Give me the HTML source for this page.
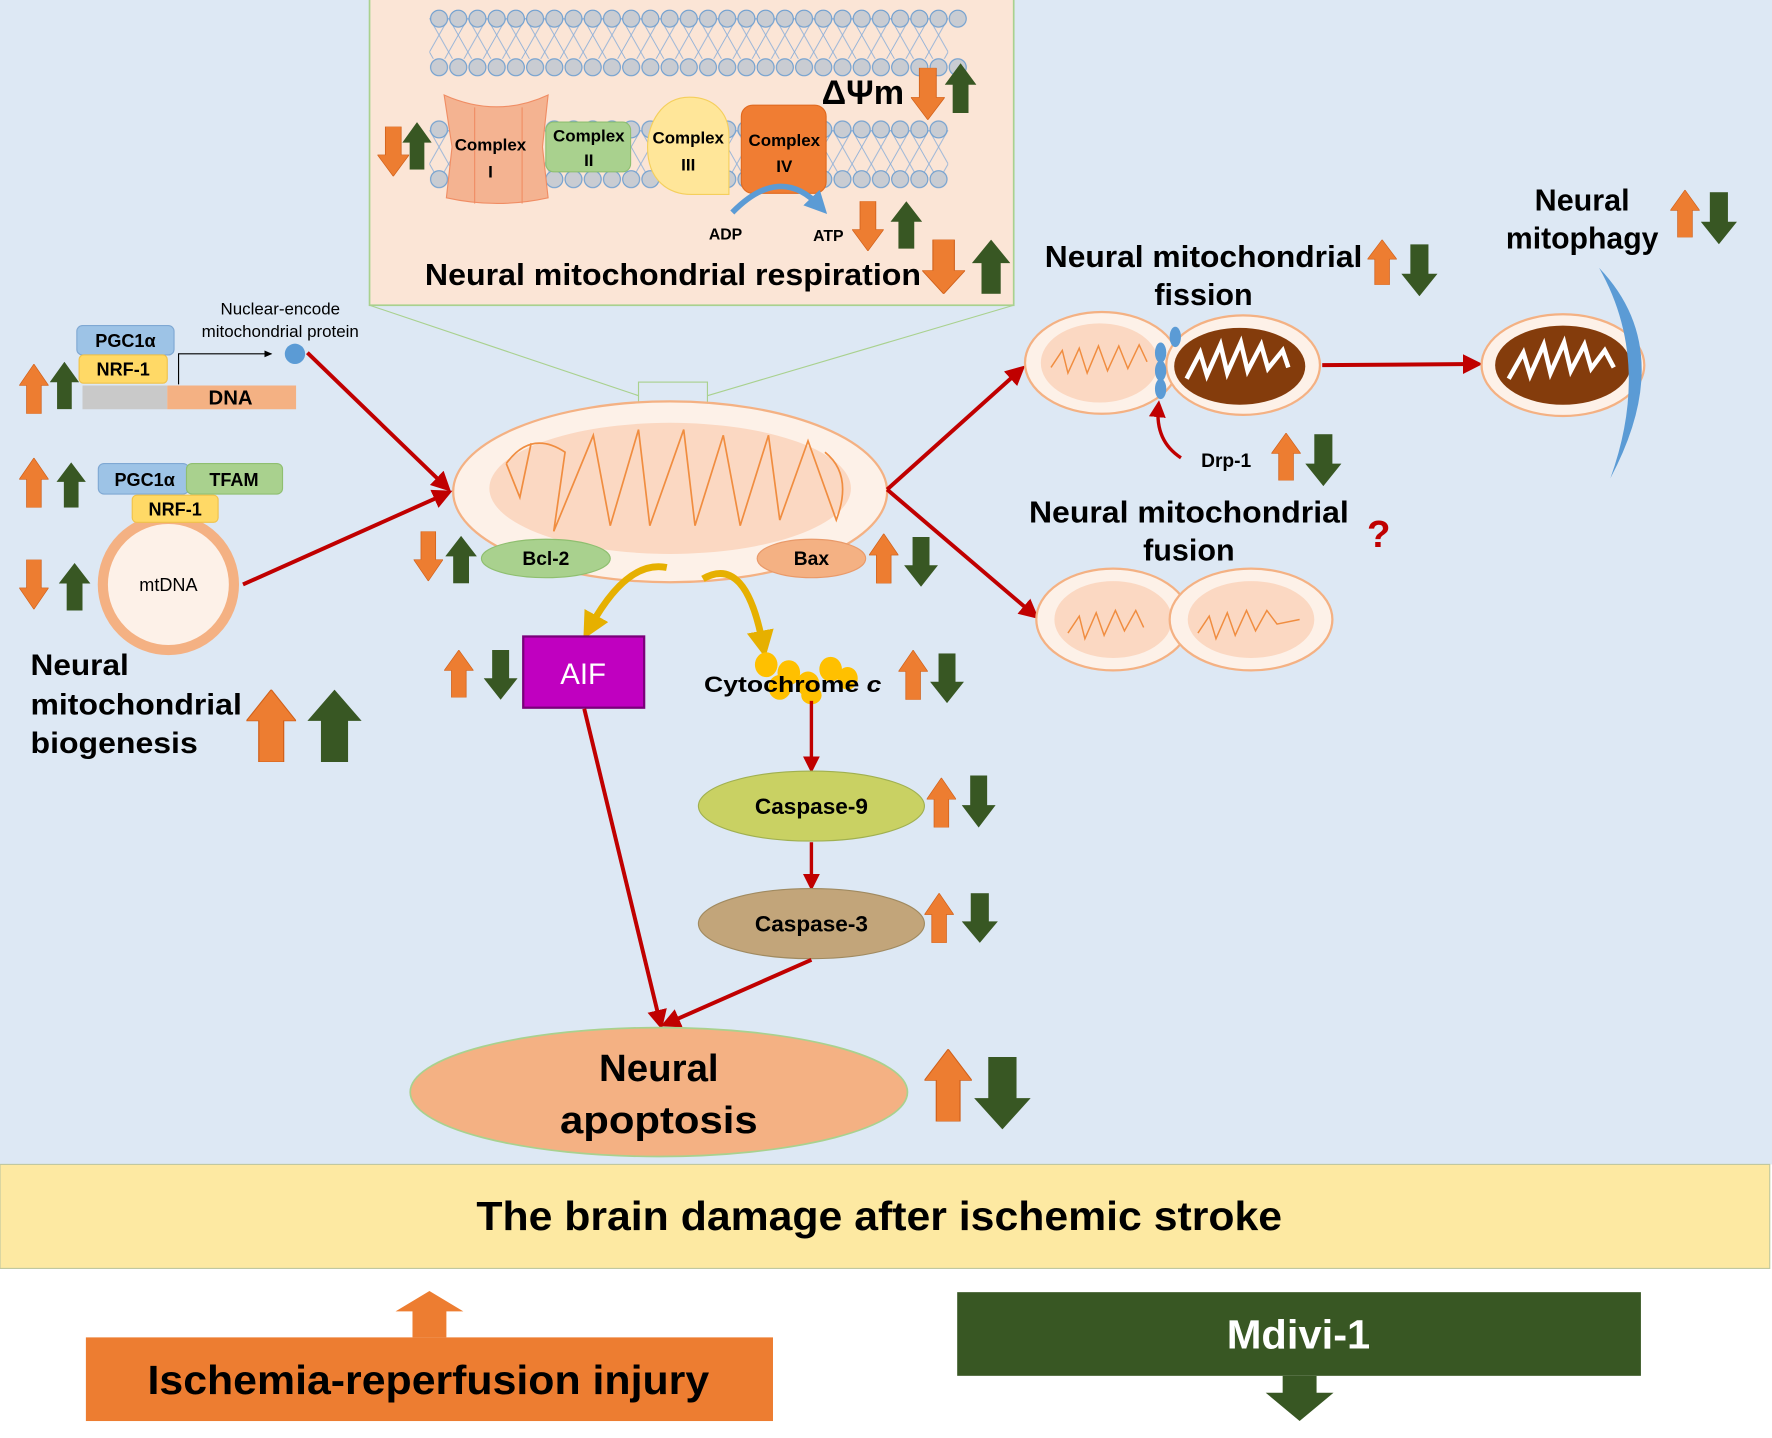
<!DOCTYPE html>
<html><head><meta charset="utf-8"><style>
html,body{margin:0;padding:0;background:#fff}
svg{display:block}
text{font-family:"Liberation Sans",Arial,sans-serif}
.b{font-weight:bold}
</style></head><body>
<svg width="1772" height="1438" viewBox="0 0 1568 1272" preserveAspectRatio="none" xmlns="http://www.w3.org/2000/svg">
<defs>
<symbol id="au" viewBox="0 0 20 44" preserveAspectRatio="none"><polygon points="5,44 15,44 15,19 20,19 10,0 0,19 5,19"/></symbol>
<symbol id="ad" viewBox="0 0 20 44" preserveAspectRatio="none"><polygon points="5,0 15,0 15,25 20,25 10,44 0,25 5,25"/></symbol>
<pattern id="lip" x="0" y="0" width="17" height="17" patternUnits="userSpaceOnUse"><circle cx="8.5" cy="8.5" r="7.5" fill="#c9ccd2" stroke="#6f9fd0" stroke-width="1"/></pattern>
<pattern id="tail" x="0" y="0" width="17" height="30" patternUnits="userSpaceOnUse"><path d="M0,0 L17,30 M17,0 L0,30" stroke="#8fb0d8" stroke-width="0.8"/></pattern>
<marker id="rm2" markerWidth="5" markerHeight="5" refX="3" refY="2.5" orient="auto" markerUnits="strokeWidth"><path d="M0,0 L5,2.5 L0,5 z" fill="#c00000"/></marker>
<marker id="bm" markerWidth="4" markerHeight="4" refX="2" refY="2" orient="auto" markerUnits="strokeWidth"><path d="M0,0 L4,2 L0,4 z" fill="#5b9bd5"/></marker>
<marker id="ym" markerWidth="4" markerHeight="4" refX="2" refY="2" orient="auto" markerUnits="strokeWidth"><path d="M0,0 L4,2 L0,4 z" fill="#e6b000"/></marker>
<marker id="km" markerWidth="8" markerHeight="8" refX="6" refY="4" orient="auto" markerUnits="userSpaceOnUse"><path d="M0,1 L7,4 L0,7 z" fill="#000"/></marker>
</defs>
<rect x="0" y="0" width="1568" height="1030" fill="#dde8f4"/>
<rect x="0" y="1122" width="1568" height="150" fill="#fff"/>

<!-- inset -->
<line x1="327" y1="270" x2="565" y2="350" stroke="#a9d18e" stroke-width="1"/>
<line x1="897" y1="270" x2="626" y2="350" stroke="#a9d18e" stroke-width="1"/>
<rect x="327" y="-2" width="570" height="272" fill="#fbe5d6" stroke="#a9d18e" stroke-width="1.5"/>
<g transform="translate(380,16)"><rect x="0" y="0" width="459" height="36" fill="url(#tail)"/></g>
<g transform="translate(380,8)"><rect x="0" y="0" width="476" height="17" fill="url(#lip)"/></g>
<g transform="translate(380,51)"><rect x="0" y="0" width="476" height="17" fill="url(#lip)"/></g>
<g transform="translate(380,115)"><rect x="0" y="0" width="459" height="40" fill="url(#tail)"/></g>
<g transform="translate(380,106)"><rect x="0" y="0" width="459" height="17" fill="url(#lip)"/></g>
<g transform="translate(380,150)"><rect x="0" y="0" width="459" height="17" fill="url(#lip)"/></g>
<path d="M393,84 Q440,105 485,84 L480,130 L485,175 Q440,185 395,175 L400,130 Z" fill="#f4b391" stroke="#f08d64"/>
<line x1="420" y1="95" x2="420" y2="180" stroke="#f08d64"/><line x1="462" y1="95" x2="462" y2="180" stroke="#f08d64"/>
<text x="434" y="133" font-size="15" text-anchor="middle" class="b">Complex</text>
<text x="434" y="157" font-size="15" text-anchor="middle" class="b">I</text>
<rect x="483" y="108" width="75" height="44" rx="7" fill="#a9d18e" stroke="#8fbf70"/>
<text x="521" y="125" font-size="15" text-anchor="middle" class="b">Complex</text>
<text x="521" y="147" font-size="15" text-anchor="middle" class="b">II</text>
<path d="M610,86 C585,86 573,110 573,130 C573,160 592,172 612,172 L645,172 L645,120 C645,100 632,86 610,86Z" fill="#ffe699" stroke="#f5cf5c"/>
<text x="609" y="127" font-size="15" text-anchor="middle" class="b">Complex</text>
<text x="609" y="151" font-size="15" text-anchor="middle" class="b">III</text>
<rect x="656" y="93" width="75" height="78" rx="10" fill="#f07d33" stroke="#e06a20"/>
<text x="694" y="129" font-size="15" text-anchor="middle" class="b">Complex</text>
<text x="694" y="152" font-size="15" text-anchor="middle" class="b">IV</text>
<path d="M648,188 Q690,145 725,182" fill="none" stroke="#5b9bd5" stroke-width="5" marker-end="url(#bm)"/>
<text x="642" y="212" font-size="14" text-anchor="middle" class="b">ADP</text>
<text x="733" y="213" font-size="14" text-anchor="middle" class="b">ATP</text>
<text x="727" y="92" font-size="30" class="b" textLength="73" lengthAdjust="spacingAndGlyphs">ΔΨm</text>
<text x="376" y="252" font-size="27" class="b" textLength="439" lengthAdjust="spacingAndGlyphs">Neural mitochondrial respiration</text>
<g fill="#ed7d31" stroke="#d0601a" stroke-width="0.5"><use href="#ad" x="334" y="112" width="28" height="44"/><use href="#ad" x="806" y="60" width="30" height="46"/><use href="#ad" x="754" y="178" width="28" height="44"/><use href="#ad" x="816" y="212" width="38" height="48"/></g>
<g fill="#385723"><use href="#au" x="356" y="108" width="26" height="42"/><use href="#au" x="836" y="56" width="28" height="44"/><use href="#au" x="788" y="178" width="28" height="42"/><use href="#au" x="860" y="212" width="34" height="48"/></g>

<!-- main mitochondrion -->
<rect x="565" y="338" width="61" height="27" fill="none" stroke="#a9d18e"/>
<ellipse cx="593" cy="435" rx="192" ry="80" fill="#fdf1e8" stroke="#f4b183" stroke-width="2"/>
<ellipse cx="593" cy="432" rx="160" ry="58" fill="#fbd8c2"/>
<path d="M448,410 Q470,380 500,400 L490,470 L525,385 L540,465 L565,380 L575,465 L605,380 L615,465 L640,385 L655,465 L680,385 L690,460 L715,390 L740,460 Q755,420 730,400 M448,410 L460,440 L470,392" fill="none" stroke="#f08d40" stroke-width="1.5"/>
<ellipse cx="483" cy="494" rx="57" ry="17" fill="#a9d18e" stroke="#8fbf70"/>
<text x="483" y="500" font-size="17" text-anchor="middle" class="b">Bcl-2</text>
<ellipse cx="718" cy="494" rx="48" ry="17" fill="#f4b183" stroke="#e99a6a"/>
<text x="718" y="500" font-size="17" text-anchor="middle" class="b">Bax</text>

<!-- left -->
<rect x="68" y="288" width="86" height="26" rx="5" fill="#9dc3e6" stroke="#7fa8d3"/>
<text x="111" y="307" font-size="16" text-anchor="middle" class="b">PGC1α</text>
<rect x="70" y="314" width="78" height="25" rx="4" fill="#ffd966" stroke="#f0c24a"/>
<text x="109" y="332" font-size="16" text-anchor="middle" class="b">NRF-1</text>
<rect x="73" y="341" width="75" height="21" fill="#c9c9c9"/>
<rect x="148" y="341" width="114" height="21" fill="#f4b183"/>
<text x="204" y="358" font-size="18" text-anchor="middle" class="b">DNA</text>
<path d="M158,340 L158,313 L240,313" fill="none" stroke="#000" stroke-width="1" marker-end="url(#km)"/>
<circle cx="261" cy="313" r="9" fill="#5b9bd5"/>
<text x="248" y="278" font-size="15" text-anchor="middle">Nuclear-encode</text>
<text x="248" y="298" font-size="15" text-anchor="middle">mitochondrial protein</text>
<line x1="272" y1="312" x2="394" y2="430" stroke="#c00000" stroke-width="3.5" marker-end="url(#rm2)"/>
<circle cx="149" cy="517" r="58" fill="#fdf1e8" stroke="#f4b183" stroke-width="9"/>
<text x="149" y="523" font-size="16" text-anchor="middle">mtDNA</text>
<rect x="87" y="410" width="80" height="27" rx="5" fill="#9dc3e6" stroke="#7fa8d3"/>
<text x="128" y="430" font-size="16" text-anchor="middle" class="b">PGC1α</text>
<rect x="165" y="410" width="85" height="27" rx="5" fill="#a9d18e" stroke="#8fbf70"/>
<text x="207" y="430" font-size="16" text-anchor="middle" class="b">TFAM</text>
<rect x="117" y="438" width="76" height="24" rx="4" fill="#ffd966" stroke="#f0c24a"/>
<text x="155" y="456" font-size="16" text-anchor="middle" class="b">NRF-1</text>
<line x1="215" y1="517" x2="394" y2="437" stroke="#c00000" stroke-width="3.5" marker-end="url(#rm2)"/>
<text x="27" y="597" font-size="26" class="b" textLength="87" lengthAdjust="spacingAndGlyphs">Neural</text>
<text x="27" y="632" font-size="26" class="b" textLength="187" lengthAdjust="spacingAndGlyphs">mitochondrial</text>
<text x="27" y="666" font-size="26" class="b" textLength="148" lengthAdjust="spacingAndGlyphs">biogenesis</text>

<!-- right -->
<line x1="785" y1="433" x2="902" y2="328" stroke="#c00000" stroke-width="3.5" marker-end="url(#rm2)"/>
<line x1="785" y1="433" x2="914" y2="543" stroke="#c00000" stroke-width="3.5" marker-end="url(#rm2)"/>
<text x="1065" y="236" font-size="27" text-anchor="middle" class="b" textLength="281" lengthAdjust="spacingAndGlyphs">Neural mitochondrial</text>
<text x="1065" y="270" font-size="27" text-anchor="middle" class="b">fission</text>
<ellipse cx="975" cy="321" rx="68" ry="45" fill="#fdf1e8" stroke="#f4b183" stroke-width="2"/>
<ellipse cx="973" cy="321" rx="52" ry="35" fill="#fbd8c2"/>
<path d="M930,325 L940,310 L945,330 L955,308 L962,330 L972,306 L980,328 L990,306 L998,326 L1008,305 L1015,320" fill="none" stroke="#f08d40" stroke-width="1.3"/>
<ellipse cx="1100" cy="323" rx="68" ry="44" fill="#fdf1e8" stroke="#f4b183" stroke-width="2"/>
<ellipse cx="1097" cy="324" rx="58" ry="34" fill="#843c0c"/>
<path d="M1050,335 L1062,312 L1068,332 L1080,305 L1086,330 L1098,303 L1104,328 L1116,305 L1122,326 L1135,310 L1140,325" fill="none" stroke="#fff" stroke-width="4"/>
<g fill="#5b9bd5"><ellipse cx="1040" cy="298" rx="5" ry="9"/><ellipse cx="1027" cy="312" rx="5" ry="9"/><ellipse cx="1027" cy="328" rx="5" ry="9"/><ellipse cx="1027" cy="344" rx="5" ry="9"/></g>
<path d="M1045,405 Q1022,390 1025,360" fill="none" stroke="#c00000" stroke-width="3" marker-end="url(#rm2)"/>
<text x="1085" y="413" font-size="17" text-anchor="middle" class="b">Drp-1</text>
<line x1="1170" y1="323" x2="1305" y2="322" stroke="#c00000" stroke-width="3.5" marker-end="url(#rm2)"/>
<ellipse cx="1383" cy="323" rx="72" ry="45" fill="#fdf1e8" stroke="#f4b183" stroke-width="2"/>
<ellipse cx="1383" cy="323" rx="60" ry="35" fill="#843c0c"/>
<path d="M1335,335 L1348,312 L1354,332 L1366,305 L1372,330 L1384,303 L1390,328 L1402,305 L1408,326 L1420,310 L1428,325" fill="none" stroke="#fff" stroke-width="4"/>
<path d="M1415,237 Q1485,310 1425,423 Q1462,320 1415,237Z" fill="#5b9bd5"/>
<text x="1400" y="186" font-size="27" text-anchor="middle" class="b">Neural</text>
<text x="1400" y="220" font-size="27" text-anchor="middle" class="b" textLength="135" lengthAdjust="spacingAndGlyphs">mitophagy</text>
<text x="1052" y="462" font-size="27" text-anchor="middle" class="b" textLength="283" lengthAdjust="spacingAndGlyphs">Neural mitochondrial</text>
<text x="1052" y="496" font-size="27" text-anchor="middle" class="b">fusion</text>
<text x="1220" y="484" font-size="34" text-anchor="middle" fill="#c00000" class="b">?</text>
<ellipse cx="985" cy="548" rx="68" ry="45" fill="#fdf1e8" stroke="#f4b183" stroke-width="2"/>
<ellipse cx="985" cy="548" rx="52" ry="34" fill="#fbd8c2"/>
<ellipse cx="1107" cy="548" rx="72" ry="45" fill="#fdf1e8" stroke="#f4b183" stroke-width="2"/>
<ellipse cx="1107" cy="548" rx="56" ry="34" fill="#fbd8c2"/>
<path d="M945,560 L955,545 L960,565 L970,542 L977,562 L987,540 L995,558 L1005,540 L1012,555 M1060,560 L1070,545 L1076,565 L1086,542 L1093,562 L1103,540 L1111,558 L1121,540 L1130,552 L1150,548" fill="none" stroke="#f08d40" stroke-width="1.3"/>

<!-- apoptosis path -->
<path d="M590,502 Q555,495 522,555" fill="none" stroke="#e6b000" stroke-width="6" marker-end="url(#ym)"/>
<path d="M622,512 Q660,490 675,570" fill="none" stroke="#e6b000" stroke-width="6" marker-end="url(#ym)"/>
<rect x="463" y="563" width="107" height="63" fill="#c000c0" stroke="#7a007a" stroke-width="2"/>
<text x="516" y="605" font-size="26" text-anchor="middle" fill="#fff">AIF</text>
<g fill="#ffc000"><ellipse cx="678" cy="588" rx="10" ry="11"/><ellipse cx="698" cy="595" rx="10" ry="11"/><ellipse cx="715" cy="605" rx="10" ry="11"/><ellipse cx="735" cy="592" rx="10" ry="11"/><ellipse cx="690" cy="608" rx="10" ry="11"/><ellipse cx="750" cy="600" rx="9" ry="10"/><ellipse cx="718" cy="615" rx="9" ry="8"/></g>
<text x="623" y="612" font-size="20" class="b" textLength="157" lengthAdjust="spacingAndGlyphs">Cytochrome <tspan font-style="italic">c</tspan></text>
<line x1="718" y1="620" x2="718" y2="678" stroke="#c00000" stroke-width="3" marker-end="url(#rm2)"/>
<ellipse cx="718" cy="713" rx="100" ry="31" fill="#c9d163" stroke="#a0b050"/>
<text x="718" y="720" font-size="20" text-anchor="middle" class="b">Caspase-9</text>
<line x1="718" y1="745" x2="718" y2="782" stroke="#c00000" stroke-width="3" marker-end="url(#rm2)"/>
<ellipse cx="718" cy="817" rx="100" ry="31" fill="#c2a57a" stroke="#a08a60"/>
<text x="718" y="824" font-size="20" text-anchor="middle" class="b">Caspase-3</text>
<line x1="517" y1="627" x2="584" y2="904" stroke="#c00000" stroke-width="3.5" marker-end="url(#rm2)"/>
<line x1="718" y1="849" x2="591" y2="905" stroke="#c00000" stroke-width="3.5" marker-end="url(#rm2)"/>
<ellipse cx="583" cy="966" rx="220" ry="57" fill="#f4b183" stroke="#a9d18e" stroke-width="1.5"/>
<text x="583" y="956" font-size="34" text-anchor="middle" class="b">Neural</text>
<text x="583" y="1002" font-size="34" text-anchor="middle" class="b" textLength="175" lengthAdjust="spacingAndGlyphs">apoptosis</text>

<!-- up/down arrows -->
<g fill="#ed7d31" stroke="#d0601a" stroke-width="0.5">
<use href="#au" x="17" y="322" width="26" height="44"/>
<use href="#au" x="17" y="405" width="26" height="44"/>
<use href="#ad" x="17" y="495" width="26" height="44"/>
<use href="#au" x="218" y="610" width="44" height="64"/>
<use href="#ad" x="366" y="470" width="26" height="44"/>
<use href="#au" x="769" y="472" width="26" height="44"/>
<use href="#au" x="393" y="575" width="26" height="42"/>
<use href="#au" x="795" y="575" width="26" height="44"/>
<use href="#au" x="820" y="688" width="26" height="44"/>
<use href="#au" x="818" y="790" width="26" height="44"/>
<use href="#au" x="818" y="928" width="42" height="64"/>
<use href="#au" x="1210" y="212" width="26" height="40"/>
<use href="#au" x="1125" y="383" width="26" height="42"/>
<use href="#au" x="1478" y="168" width="26" height="42"/>
</g>
<g fill="#385723">
<use href="#au" x="44" y="320" width="26" height="42"/>
<use href="#au" x="50" y="409" width="26" height="40"/>
<use href="#au" x="52" y="498" width="28" height="42"/>
<use href="#au" x="272" y="610" width="48" height="64"/>
<use href="#au" x="394" y="474" width="28" height="42"/>
<use href="#ad" x="800" y="475" width="30" height="44"/>
<use href="#ad" x="428" y="575" width="30" height="44"/>
<use href="#ad" x="823" y="578" width="30" height="44"/>
<use href="#ad" x="851" y="686" width="30" height="46"/>
<use href="#ad" x="851" y="790" width="32" height="44"/>
<use href="#ad" x="862" y="935" width="50" height="64"/>
<use href="#ad" x="1240" y="216" width="32" height="46"/>
<use href="#ad" x="1155" y="384" width="32" height="46"/>
<use href="#ad" x="1505" y="170" width="32" height="46"/>
</g>

<!-- bottom -->
<rect x="0" y="1030" width="1566" height="92" fill="#fde9a2" stroke="#c0c8a0" stroke-width="1"/>
<text x="778" y="1088" font-size="36" text-anchor="middle" class="b" textLength="713" lengthAdjust="spacingAndGlyphs">The brain damage after ischemic stroke</text>
<polygon points="365,1183 395,1183 395,1160 410,1160 380,1142 350,1160 365,1160" fill="#ed7d31"/>
<rect x="76" y="1183" width="608" height="74" fill="#ed7d31"/>
<text x="379" y="1233" font-size="36" text-anchor="middle" class="b" textLength="497" lengthAdjust="spacingAndGlyphs">Ischemia-reperfusion injury</text>
<rect x="847" y="1143" width="605" height="74" fill="#385723"/>
<text x="1149" y="1193" font-size="36" text-anchor="middle" fill="#fff" class="b" textLength="127" lengthAdjust="spacingAndGlyphs">Mdivi-1</text>
<polygon points="1135,1217 1165,1217 1165,1232 1180,1232 1150,1257 1120,1232 1135,1232" fill="#385723"/>
</svg>
</body></html>
